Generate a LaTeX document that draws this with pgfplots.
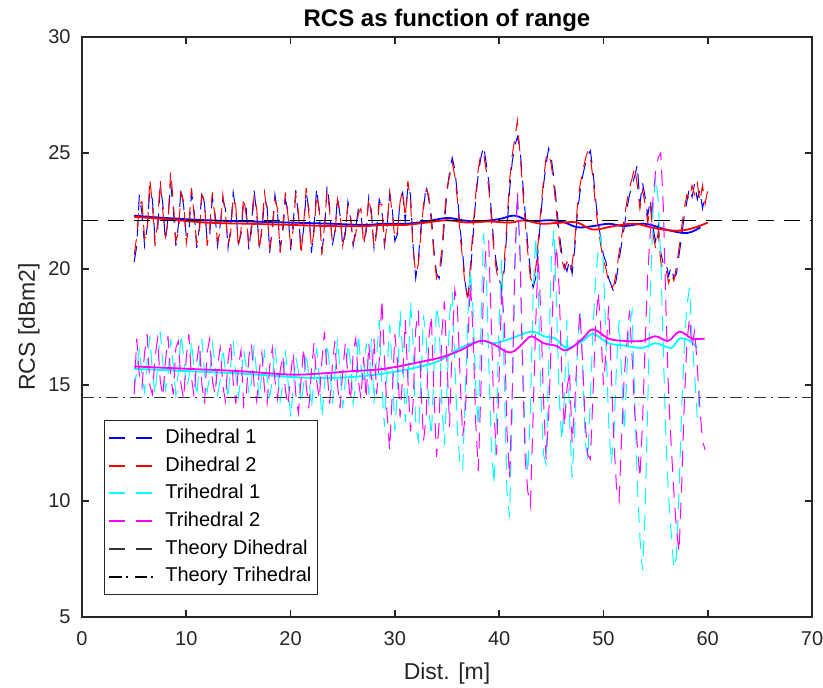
\documentclass[border=0pt]{standalone}
\usepackage{fontspec}
\setmainfont{Liberation Sans}
\usepackage{pgfplots}
\pgfplotsset{compat=1.18}
\definecolor{axgray}{rgb}{0.15,0.15,0.15}
\definecolor{mblue}{rgb}{0,0,1}
\definecolor{mred}{rgb}{1,0,0}
\definecolor{mcyan}{rgb}{0,1,1}
\definecolor{mmag}{rgb}{1,0,1}
\definecolor{thgray}{rgb}{0.2,0.2,0.2}
\pgfplotsset{
  dleg/.style={legend image code/.code={\path[draw=none] (0pt,0pt) -- (27pt,0pt);
     \draw[draw=#1, line width=1pt, solid] (0pt,0pt) -- (8pt,0pt) (13.5pt,0pt) -- (21.5pt,0pt);}},
  ddleg/.style={legend image code/.code={\path[draw=none] (0pt,0pt) -- (27pt,0pt);
     \draw[draw=#1, line width=1pt, solid] (0pt,0pt) -- (6.5pt,0pt) (8.5pt,0pt) -- (9.5pt,0pt) (13pt,0pt) -- (19pt,0pt) (21pt,0pt) -- (22pt,0pt);}},
}
\begin{document}
\begin{tikzpicture}
\useasboundingbox (-41pt,-35pt) rectangle (370.5pt,308.5pt);
\begin{axis}[
  width=365pt, height=290pt, scale only axis,
  xmin=0, xmax=70, ymin=5, ymax=30,
  xtick={0,10,...,70}, ytick={5,10,...,30},
  tick align=inside, major tick length=3.5pt,
  axis line style={axgray, line width=0.8pt},
  every tick/.style={axgray, line width=0.8pt},
  /pgf/number format/assume math mode=true,
  tick label style={font=\fontsize{10}{12}\selectfont, text=axgray},
  xticklabel style={anchor=base, yshift=-14pt, inner sep=0pt},
  yticklabel style={anchor=east, xshift=-5.5pt, inner sep=0pt},
  title={RCS as function of range},
  title style={font=\bfseries\fontsize{12}{14}\selectfont, at={(0.5,1)}, anchor=base, yshift=-0.8pt},
  xlabel={Dist. [m]},
  xlabel style={font=\fontsize{11.5}{13}\selectfont, text=axgray, at={(axis description cs:0.5,-0.1069)}, anchor=base},
  ylabel={RCS [dBm2]},
  ylabel style={font=\fontsize{11.5}{13}\selectfont, text=axgray, at={(axis description cs:-0.0644,0.5)}, anchor=base},
  legend style={at={(0.030,0.340)}, anchor=north west, draw=axgray, line width=0.5pt,
    font=\fontsize{10}{12}\selectfont, inner xsep=2pt, inner ysep=3pt,
    nodes={inner sep=1pt, text height=7.5pt, text depth=2.2pt}, row sep=2.15pt},
  legend cell align=left,
]
\addlegendimage{dleg=mblue}
\addlegendentry{Dihedral 1}
\addlegendimage{dleg=mred}
\addlegendentry{Dihedral 2}
\addlegendimage{dleg=mcyan}
\addlegendentry{Trihedral 1}
\addlegendimage{dleg=mmag}
\addlegendentry{Trihedral 2}
\addlegendimage{dleg=thgray}
\addlegendentry{Theory Dihedral}
\addlegendimage{ddleg=black}
\addlegendentry{Theory Trihedral}
% Dihedral 1
\addplot[mblue, line width=0.5pt, dash pattern=on 8pt off 5pt, forget plot] coordinates {
(5.00,20.3)(5.25,21.0)(5.50,23.2)(5.75,22.4)(6.00,21.0)(6.25,21.8)(6.50,23.4)(6.75,23.0)
(7.00,21.3)(7.25,21.6)(7.50,23.6)(7.75,22.8)(8.00,21.2)(8.25,22.2)(8.50,23.7)(8.75,22.6)
(9.00,21.0)(9.25,21.9)(9.50,23.5)(9.75,22.7)(10.00,21.4)(10.25,21.6)(10.50,23.3)(10.75,22.5)
(11.00,20.9)(11.25,21.8)(11.50,23.4)(11.75,22.8)(12.00,21.2)(12.25,21.5)(12.50,23.1)(12.75,22.4)
(13.00,21.0)(13.25,21.9)(13.50,23.0)(13.75,22.6)(14.00,20.9)(14.25,21.7)(14.50,23.3)(14.75,22.5)
(15.00,21.1)(15.25,21.5)(15.50,22.9)(15.75,22.6)(16.00,20.8)(16.25,21.9)(16.50,23.4)(16.75,22.4)
(17.00,21.0)(17.25,21.6)(17.50,23.0)(17.75,22.7)(18.00,20.7)(18.25,21.8)(18.50,23.2)(18.75,22.4)
(19.00,20.9)(19.25,21.5)(19.50,23.0)(19.75,22.5)(20.00,20.8)(20.25,22.0)(20.50,23.4)(20.75,22.3)
(21.00,20.9)(21.25,21.7)(21.50,23.3)(21.75,22.6)(22.00,20.7)(22.25,21.8)(22.50,23.5)(22.75,22.4)
(23.00,20.8)(23.25,21.6)(23.50,23.6)(23.75,22.7)(24.00,21.0)(24.25,21.6)(24.50,23.1)(24.75,22.3)
(25.00,21.0)(25.25,21.5)(25.50,22.9)(25.75,22.2)(26.00,21.0)(26.25,21.8)(26.50,22.6)(26.75,22.4)
(27.00,21.2)(27.25,21.6)(27.50,23.1)(27.75,22.5)(28.00,20.9)(28.25,21.7)(28.50,23.0)(28.75,22.6)
(29.00,21.0)(29.25,21.8)(29.50,23.3)(29.75,22.6)(30.00,21.2)(30.25,21.5)(30.50,23.0)(30.75,23.3)
(31.00,22.0)(31.25,23.6)(31.50,23.2)(31.75,21.0)(32.00,19.6)(32.25,20.4)(32.50,21.8)(32.75,22.6)
(33.00,23.6)(33.25,23.0)(33.50,22.3)(33.75,20.8)(34.00,19.8)(34.25,19.6)(34.50,20.5)(34.75,22.0)
(35.00,23.3)(35.25,24.2)(35.50,24.8)(35.75,24.3)(36.00,23.2)(36.25,21.8)(36.50,20.7)(36.75,19.4)
(37.00,18.6)(37.25,19.8)(37.50,21.4)(37.75,23.0)(38.00,24.1)(38.25,24.8)(38.50,25.3)(38.75,24.6)
(39.00,23.8)(39.25,22.5)(39.50,21.0)(39.75,20.2)(40.00,19.6)(40.25,19.1)(40.50,20.0)(40.75,21.7)
(41.00,23.4)(41.25,24.6)(41.50,25.3)(41.75,25.7)(42.00,25.2)(42.25,23.8)(42.50,22.4)(42.75,21.0)
(43.00,19.9)(43.25,19.2)(43.50,19.6)(43.75,20.9)(44.00,22.3)(44.25,23.6)(44.50,24.5)(44.75,25.2)
(45.00,24.8)(45.25,23.9)(45.50,22.8)(45.75,21.6)(46.00,20.7)(46.25,20.2)(46.50,19.9)(46.75,20.4)
(47.00,19.8)(47.25,20.9)(47.50,22.4)(47.75,23.3)(48.00,24.0)(48.25,24.5)(48.50,24.9)(48.75,25.1)
(49.00,24.2)(49.25,23.0)(49.50,22.0)(49.75,21.3)(50.00,20.6)(50.25,20.3)(50.50,19.6)(50.75,19.3)
(51.00,19.0)(51.25,19.6)(51.50,20.4)(51.75,21.1)(52.00,21.8)(52.25,22.6)(52.50,23.2)(52.75,23.6)
(53.00,24.0)(53.25,24.5)(53.50,22.8)(53.75,23.7)(54.00,23.1)(54.25,22.3)(54.50,23.0)(54.75,21.8)
(55.00,21.2)(55.25,21.9)(55.50,20.7)(55.75,20.2)(56.00,20.3)(56.25,19.7)(56.50,20.1)(56.75,19.6)
(57.00,19.8)(57.25,20.6)(57.50,21.4)(57.75,22.3)(58.00,22.9)(58.25,23.5)(58.50,23.1)(58.75,23.7)
(59.00,23.0)(59.25,23.4)(59.50,22.6)(59.75,23.2)
};
\addplot[mblue, line width=0.9pt, smooth, tension=0.6, forget plot] coordinates {
(5,22.3)(8,22.2)(12,22.1)(16,22.05)(20,22.0)(24,21.95)(27,21.9)(29,21.95)(31,21.95)(33,22.05)
(35,22.2)(36.5,22.1)(38,22.05)(40,22.15)(41.5,22.3)(43,22.05)(44.5,22.1)(46,22.05)(47.5,21.8)
(49,21.85)(50.5,21.95)(52,21.85)(54,21.95)(56,21.7)(58,21.55)(59.3,21.8)
};
% Dihedral 2
\addplot[mred, line width=0.5pt, dash pattern=on 8pt off 5pt, forget plot] coordinates {
(5.00,20.6)(5.25,21.4)(5.50,22.8)(5.75,22.9)(6.00,21.3)(6.25,21.5)(6.50,23.9)(6.75,22.8)
(7.00,21.0)(7.25,22.0)(7.50,23.8)(7.75,22.5)(8.00,21.4)(8.25,22.0)(8.50,24.2)(8.75,22.9)
(9.00,21.2)(9.25,21.6)(9.50,23.3)(9.75,22.9)(10.00,21.1)(10.25,21.9)(10.50,23.5)(10.75,22.3)
(11.00,21.1)(11.25,21.5)(11.50,23.2)(11.75,22.9)(12.00,21.0)(12.25,21.8)(12.50,23.3)(12.75,22.2)
(13.00,21.2)(13.25,21.6)(13.50,23.2)(13.75,22.4)(14.00,21.1)(14.25,21.5)(14.50,23.1)(14.75,22.7)
(15.00,20.9)(15.25,21.7)(15.50,23.1)(15.75,22.3)(16.00,21.0)(16.25,21.6)(16.50,23.2)(16.75,22.6)
(17.00,20.8)(17.25,21.8)(17.50,23.3)(17.75,22.5)(18.00,20.9)(18.25,21.6)(18.50,23.0)(18.75,22.6)
(19.00,20.7)(19.25,21.8)(19.50,23.3)(19.75,22.3)(20.00,21.0)(20.25,21.7)(20.50,23.2)(20.75,22.5)
(21.00,20.6)(21.25,21.9)(21.50,23.5)(21.75,22.4)(22.00,20.9)(22.25,21.6)(22.50,23.2)(22.75,22.6)
(23.00,20.6)(23.25,21.9)(23.50,23.4)(23.75,22.5)(24.00,21.2)(24.25,21.4)(24.50,23.0)(24.75,22.4)
(25.00,21.0)(25.25,21.7)(25.50,22.7)(25.75,22.3)(26.00,21.1)(26.25,21.5)(26.50,22.4)(26.75,22.6)
(27.00,21.0)(27.25,21.8)(27.50,23.1)(27.75,22.3)(28.00,20.9)(28.25,21.5)(28.50,22.8)(28.75,22.8)
(29.00,21.1)(29.25,21.9)(29.50,23.3)(29.75,22.4)(30.00,21.3)(30.25,21.6)(30.50,22.9)(30.75,23.4)
(31.00,22.2)(31.25,23.8)(31.50,22.9)(31.75,20.8)(32.00,19.8)(32.25,20.2)(32.50,21.5)(32.75,22.8)
(33.00,23.4)(33.25,23.2)(33.50,22.0)(33.75,20.6)(34.00,19.6)(34.25,19.9)(34.50,20.8)(34.75,22.3)
(35.00,23.5)(35.25,24.0)(35.50,24.6)(35.75,24.0)(36.00,23.0)(36.25,21.5)(36.50,20.4)(36.75,19.2)
(37.00,18.8)(37.25,20.2)(37.50,21.8)(37.75,23.2)(38.00,24.3)(38.25,25.0)(38.50,25.0)(38.75,24.3)
(39.00,23.5)(39.25,22.2)(39.50,20.8)(39.75,19.9)(40.00,19.4)(40.25,19.3)(40.50,20.4)(40.75,22.0)
(41.00,23.8)(41.25,24.9)(41.50,25.6)(41.75,26.4)(42.00,25.0)(42.25,23.5)(42.50,22.0)(42.75,20.7)
(43.00,19.6)(43.25,19.4)(43.50,20.0)(43.75,21.2)(44.00,22.6)(44.25,23.8)(44.50,24.8)(44.75,25.0)
(45.00,24.5)(45.25,23.6)(45.50,22.4)(45.75,21.3)(46.00,20.4)(46.25,20.0)(46.50,20.3)(46.75,19.9)
(47.00,20.2)(47.25,21.2)(47.50,22.7)(47.75,23.6)(48.00,24.2)(48.25,24.7)(48.50,25.1)(48.75,24.8)
(49.00,23.9)(49.25,22.7)(49.50,21.8)(49.75,21.0)(50.00,20.4)(50.25,20.0)(50.50,19.4)(50.75,19.2)
(51.00,19.3)(51.25,19.9)(51.50,20.7)(51.75,21.4)(52.00,22.2)(52.25,22.9)(52.50,23.5)(52.75,23.9)
(53.00,24.4)(53.25,23.6)(53.50,22.6)(53.75,23.4)(54.00,22.8)(54.25,22.0)(54.50,22.7)(54.75,21.5)
(55.00,20.9)(55.25,21.6)(55.50,20.3)(55.75,19.9)(56.00,20.0)(56.25,19.4)(56.50,19.8)(56.75,19.5)
(57.00,20.1)(57.25,20.9)(57.50,21.8)(57.75,22.6)(58.00,23.2)(58.25,23.0)(58.50,23.6)(58.75,23.2)
(59.00,23.7)(59.25,22.9)(59.50,23.6)(59.75,22.8)(60.00,23.4)
};
\addplot[mred, line width=0.9pt, smooth, tension=0.6, forget plot] coordinates {
(5,22.25)(8,22.15)(12,22.0)(16,21.95)(20,21.9)(24,21.85)(27,21.85)(29,21.9)(31,21.9)(33,22.0)
(35,22.1)(37,22.0)(39,22.05)(41,22.0)(42.5,22.1)(44,21.95)(46,22.0)(47.5,22.0)(49,21.7)
(51,21.85)(53,21.95)(55,21.75)(57,21.65)(58.5,21.75)(60,22.0)
};
% Trihedral 1
\addplot[mcyan, line width=0.5pt, dash pattern=on 8pt off 5pt, forget plot] coordinates {
(5.00,14.8)(5.25,15.6)(5.50,16.6)(5.75,15.4)(6.00,14.7)(6.25,16.0)(6.50,17.1)(6.75,15.6)
(7.00,14.6)(7.25,15.8)(7.50,17.3)(7.75,16.0)(8.00,14.8)(8.25,15.4)(8.50,17.0)(8.75,15.8)
(9.00,14.6)(9.25,15.6)(9.50,17.2)(9.75,16.2)(10.00,14.9)(10.25,15.3)(10.50,16.9)(10.75,15.7)
(11.00,14.5)(11.25,15.9)(11.50,17.0)(11.75,15.5)(12.00,14.7)(12.25,15.4)(12.50,16.8)(12.75,15.9)
(13.00,14.6)(13.25,15.2)(13.50,16.6)(13.75,15.6)(14.00,14.4)(14.25,15.8)(14.50,16.9)(14.75,15.4)
(15.00,14.5)(15.25,15.3)(15.50,16.5)(15.75,15.8)(16.00,14.6)(16.25,15.1)(16.50,16.7)(16.75,15.5)
(17.00,14.4)(17.25,15.6)(17.50,16.4)(17.75,15.3)(18.00,14.5)(18.25,15.2)(18.50,16.6)(18.75,15.6)
(19.00,14.3)(19.25,15.0)(19.50,16.5)(19.75,15.2)(20.00,13.6)(20.25,14.8)(20.50,16.2)(20.75,15.6)
(21.00,14.2)(21.25,15.0)(21.50,16.4)(21.75,15.4)(22.00,14.0)(22.25,15.2)(22.50,16.6)(22.75,15.3)
(23.00,13.6)(23.25,14.9)(23.50,16.8)(23.75,15.8)(24.00,14.2)(24.25,15.4)(24.50,17.0)(24.75,15.6)
(25.00,14.0)(25.25,15.2)(25.50,16.8)(25.75,16.0)(26.00,14.2)(26.25,15.0)(26.50,17.2)(26.75,15.8)
(27.00,15.0)(27.25,16.8)(27.50,14.6)(27.75,17.0)(28.00,14.2)(28.25,16.2)(28.50,17.8)(28.75,15.0)
(29.00,13.2)(29.25,15.6)(29.50,17.6)(29.75,15.8)(30.00,13.0)(30.25,14.8)(30.50,18.2)(30.75,16.4)
(31.00,13.4)(31.25,15.0)(31.50,18.6)(31.75,16.8)(32.00,13.2)(32.25,12.6)(32.50,15.2)(32.75,18.0)
(33.00,17.0)(33.25,14.0)(33.50,12.8)(33.75,15.6)(34.00,18.4)(34.25,17.6)(34.50,14.2)(34.75,12.4)
(35.00,14.8)(35.25,18.0)(35.50,19.0)(35.75,16.0)(36.00,13.0)(36.25,11.6)(36.50,11.3)(36.75,14.6)
(37.00,18.0)(37.25,20.0)(37.50,18.2)(37.75,15.0)(38.00,13.2)(38.25,17.4)(38.50,21.5)(38.75,20.2)
(39.00,16.0)(39.25,12.4)(39.50,10.7)(39.75,13.6)(40.00,17.8)(40.25,20.4)(40.50,15.0)(40.75,10.4)
(41.00,9.3)(41.25,13.8)(41.50,19.6)(41.75,23.3)(42.00,21.0)(42.25,16.2)(42.50,12.6)(42.75,11.2)
(43.00,14.0)(43.25,18.8)(43.50,21.4)(43.75,19.0)(44.00,14.6)(44.25,12.0)(44.50,11.6)(44.75,15.8)
(45.00,20.4)(45.25,21.7)(45.50,18.4)(45.75,14.6)(46.00,12.6)(46.25,14.4)(46.50,17.8)(46.75,13.6)
(47.00,11.0)(47.25,13.0)(47.50,16.4)(47.75,18.2)(48.00,15.8)(48.25,12.6)(48.50,11.8)(48.75,14.4)
(49.00,17.4)(49.25,19.6)(49.50,20.8)(49.75,21.4)(50.00,20.2)(50.25,16.8)(50.50,13.4)(50.75,11.6)
(51.00,12.8)(51.25,15.8)(51.50,17.8)(51.75,15.4)(52.00,13.0)(52.25,15.6)(52.50,17.6)(52.75,18.2)
(53.00,14.4)(53.25,10.8)(53.50,8.4)(53.75,7.0)(54.00,9.6)(54.25,14.2)(54.50,19.0)(54.75,22.4)
(55.00,24.0)(55.25,23.0)(55.50,20.4)(55.75,16.4)(56.00,12.6)(56.25,10.2)(56.50,8.6)(56.75,7.1)
(57.00,7.6)(57.25,10.4)(57.50,14.0)(57.75,16.6)(58.00,18.4)(58.25,19.2)(58.50,17.0)(58.75,15.4)
(59.00,13.6)(59.25,15.2)
};
\addplot[mcyan, line width=0.9pt, smooth, tension=0.6, forget plot] coordinates {
(5,15.7)(10,15.6)(15,15.5)(20,15.35)(23,15.3)(26,15.35)(29,15.5)(32.5,15.8)(34.5,16.1)
(36.3,16.6)(38.2,16.9)(39.5,16.8)(41.1,17.0)(43.1,17.3)(44.3,17.1)(45.4,17.0)(46.5,16.6)
(48,16.9)(49,17.2)(50.5,16.8)(52,16.7)(53.7,16.6)(55,16.8)(56.5,16.6)(57.3,17.0)(58.3,16.9)(59.0,16.6)
};
% Trihedral 2
\addplot[mmag, line width=0.5pt, dash pattern=on 8pt off 5pt, forget plot] coordinates {
(5.00,14.6)(5.25,17.0)(5.50,15.4)(5.75,14.9)(6.00,16.4)(6.25,17.2)(6.50,15.0)(6.75,14.6)
(7.00,16.2)(7.25,17.0)(7.50,15.2)(7.75,14.5)(8.00,16.0)(8.25,17.1)(8.50,15.4)(8.75,14.6)
(9.00,16.6)(9.25,16.9)(9.50,15.0)(9.75,14.4)(10.00,16.2)(10.25,17.2)(10.50,15.3)(10.75,14.5)
(11.00,16.0)(11.25,16.8)(11.50,15.0)(11.75,14.2)(12.00,16.4)(12.25,17.0)(12.50,15.2)(12.75,14.6)
(13.00,15.8)(13.25,16.6)(13.50,15.0)(13.75,14.3)(14.00,16.0)(14.25,16.9)(14.50,15.1)(14.75,14.2)
(15.00,15.8)(15.25,16.5)(15.50,14.1)(15.75,14.6)(16.00,16.2)(16.25,16.8)(16.50,15.0)(16.75,14.3)
(17.00,15.6)(17.25,16.4)(17.50,14.8)(17.75,14.2)(18.00,15.8)(18.25,16.6)(18.50,15.2)(18.75,14.4)
(19.00,15.6)(19.25,16.3)(19.50,14.8)(19.75,14.1)(20.00,15.4)(20.25,16.4)(20.50,14.6)(20.75,13.8)
(21.00,15.2)(21.25,16.6)(21.50,15.0)(21.75,14.0)(22.00,15.6)(22.25,16.8)(22.50,15.2)(22.75,14.4)
(23.00,16.0)(23.25,17.3)(23.50,15.6)(23.75,14.2)(24.00,15.8)(24.25,16.9)(24.50,15.0)(24.75,14.0)
(25.00,15.6)(25.25,16.8)(25.50,15.4)(25.75,14.3)(26.00,16.4)(26.25,17.0)(26.50,15.2)(26.75,14.4)
(27.00,16.2)(27.25,14.4)(27.50,16.8)(27.75,15.2)(28.00,17.0)(28.25,14.6)(28.50,16.0)(28.75,18.7)
(29.00,16.2)(29.25,13.8)(29.50,12.2)(29.75,14.6)(30.00,17.2)(30.25,16.0)(30.50,13.6)(30.75,15.4)
(31.00,17.8)(31.25,15.2)(31.50,13.0)(31.75,14.2)(32.00,17.4)(32.25,18.2)(32.50,15.0)(32.75,12.6)
(33.00,13.6)(33.25,17.0)(33.50,18.0)(33.75,14.6)(34.00,11.9)(34.25,13.4)(34.50,17.2)(34.75,18.6)
(35.00,16.0)(35.25,13.2)(35.50,16.8)(35.75,19.1)(36.00,18.4)(36.25,15.4)(36.50,12.8)(36.75,13.6)
(37.00,16.8)(37.25,19.4)(37.50,17.2)(37.75,13.4)(38.00,11.3)(38.25,14.8)(38.50,19.2)(38.75,21.0)
(39.00,21.2)(39.25,17.6)(39.50,13.8)(39.75,12.0)(40.00,15.4)(40.25,19.2)(40.50,17.6)(40.75,13.0)
(41.00,11.0)(41.25,14.6)(41.50,20.2)(41.75,23.3)(42.00,20.6)(42.25,15.6)(42.50,11.8)(42.75,10.4)
(43.00,9.8)(43.25,13.6)(43.50,17.6)(43.75,20.6)(44.00,18.0)(44.25,14.4)(44.50,11.8)(44.75,13.6)
(45.00,17.0)(45.25,19.6)(45.50,21.0)(45.75,19.2)(46.00,15.6)(46.25,13.2)(46.50,14.8)(46.75,15.6)
(47.00,12.5)(47.25,14.2)(47.50,16.6)(47.75,18.2)(48.00,16.0)(48.25,13.4)(48.50,12.0)(48.75,11.8)
(49.00,14.6)(49.25,17.6)(49.50,19.0)(49.75,17.4)(50.00,15.0)(50.25,16.4)(50.50,18.4)(50.75,15.6)
(51.00,12.6)(51.25,10.6)(51.50,10.0)(51.75,12.8)(52.00,15.4)(52.25,16.8)(52.50,18.2)(52.75,16.2)
(53.00,13.8)(53.25,12.4)(53.50,11.0)(53.75,13.4)(54.00,16.8)(54.25,19.8)(54.50,21.6)(54.75,23.0)
(55.00,24.2)(55.25,24.8)(55.50,25.0)(55.75,22.6)(56.00,18.2)(56.25,14.6)(56.50,12.4)(56.75,10.4)
(57.00,8.8)(57.25,7.8)(57.50,10.6)(57.75,14.2)(58.00,16.8)(58.25,17.9)(58.50,16.6)(58.75,17.4)
(59.00,15.8)(59.25,14.0)(59.50,12.6)(59.75,12.2)
};
\addplot[mmag, line width=0.9pt, smooth, tension=0.6, forget plot] coordinates {
(5,15.8)(10,15.7)(15,15.6)(20,15.45)(23,15.5)(26,15.6)(29,15.7)(32.5,16.0)(34.5,16.2)
(36.3,16.5)(38.2,16.9)(39.5,16.75)(41.1,16.4)(42.5,16.9)(43.1,17.1)(44.3,16.8)(45.4,16.7)
(46.5,16.5)(48,17.0)(49,17.4)(50.5,17.0)(52,16.9)(53.7,16.9)(55,17.1)(56.2,16.9)(57.3,17.3)(58.5,17.0)(59.7,17.0)
};
% Theory lines
\addplot[black, line width=0.6pt, dash pattern=on 8pt off 5pt, forget plot] coordinates {(0,22.1)(70,22.1)};
\addplot[thgray, line width=0.6pt, dash pattern=on 6pt off 2.5pt on 1pt off 2.5pt, forget plot] coordinates {(0,14.45)(70,14.45)};
\end{axis}
\end{tikzpicture}
\end{document}
